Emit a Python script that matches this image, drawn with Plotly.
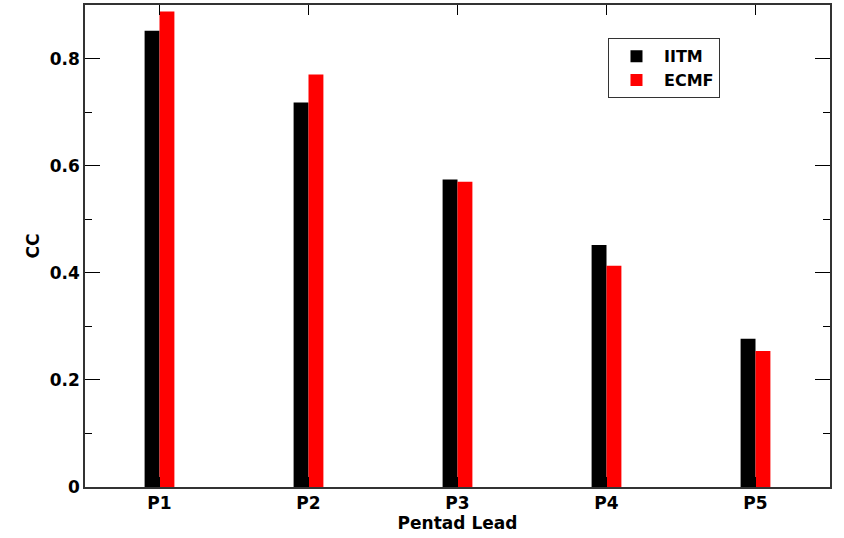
import plotly.graph_objects as go

leads = ["P1", "P2", "P3", "P4", "P5"]
positions = [1, 2, 3, 4, 5]
iitm = [0.852, 0.718, 0.574, 0.452, 0.277]
ecmf = [0.888, 0.770, 0.570, 0.413, 0.254]

font_family = "DejaVu Sans, Liberation Sans, Arial, sans-serif"

fig = go.Figure()
fig.add_trace(go.Bar(x=positions, y=iitm, name="IITM", marker=dict(color="black", line=dict(width=0))))
fig.add_trace(go.Bar(x=positions, y=ecmf, name="ECMF", marker=dict(color="#ff0000", line=dict(width=0))))

fig.update_layout(
    width=844, height=538,
    margin=dict(l=85, r=14, t=5, b=51, autoexpand=False),
    paper_bgcolor="white", plot_bgcolor="white",
    barmode="group", bargap=0.8, bargroupgap=0,
    font=dict(family=font_family, size=17, color="black", weight="bold"),
    legend=dict(
        x=0.702, y=0.931, xanchor="left", yanchor="top",
        bordercolor="#333333", borderwidth=1, bgcolor="white",
        font=dict(size=16, family=font_family, weight="bold"),
        itemwidth=45, tracegroupgap=0,
    ),
    showlegend=True,
)

fig.update_xaxes(
    range=[0.5, 5.5], tickvals=positions, ticktext=leads,
    ticks="inside", ticklen=10, tickcolor="black",
    showline=True, linecolor="#333333", linewidth=1.5, mirror="ticks",
    showgrid=False, zeroline=False,
    title=dict(text="Pentad Lead", standoff=0, font=dict(size=17, weight="bold")),
    tickfont=dict(size=17, weight="bold"),
)
fig.update_yaxes(
    range=[0, 0.9], tickvals=[0, 0.2, 0.4, 0.6, 0.8], ticktext=["0", "0.2", "0.4", "0.6", "0.8"],
    ticks="inside", ticklen=15, tickcolor="black",
    minor=dict(dtick=0.1, ticks="inside", ticklen=7, tickcolor="black", showgrid=False),
    showline=True, linecolor="#333333", linewidth=1.5, mirror="ticks",
    showgrid=False, zeroline=False,
    title=dict(text="CC", standoff=6, font=dict(size=17, weight="bold")),
    tickfont=dict(size=17, weight="bold"),
)

fig.write_html("out.html", config={"displayModeBar": False},
               post_script="document.body.style.margin='0';")
